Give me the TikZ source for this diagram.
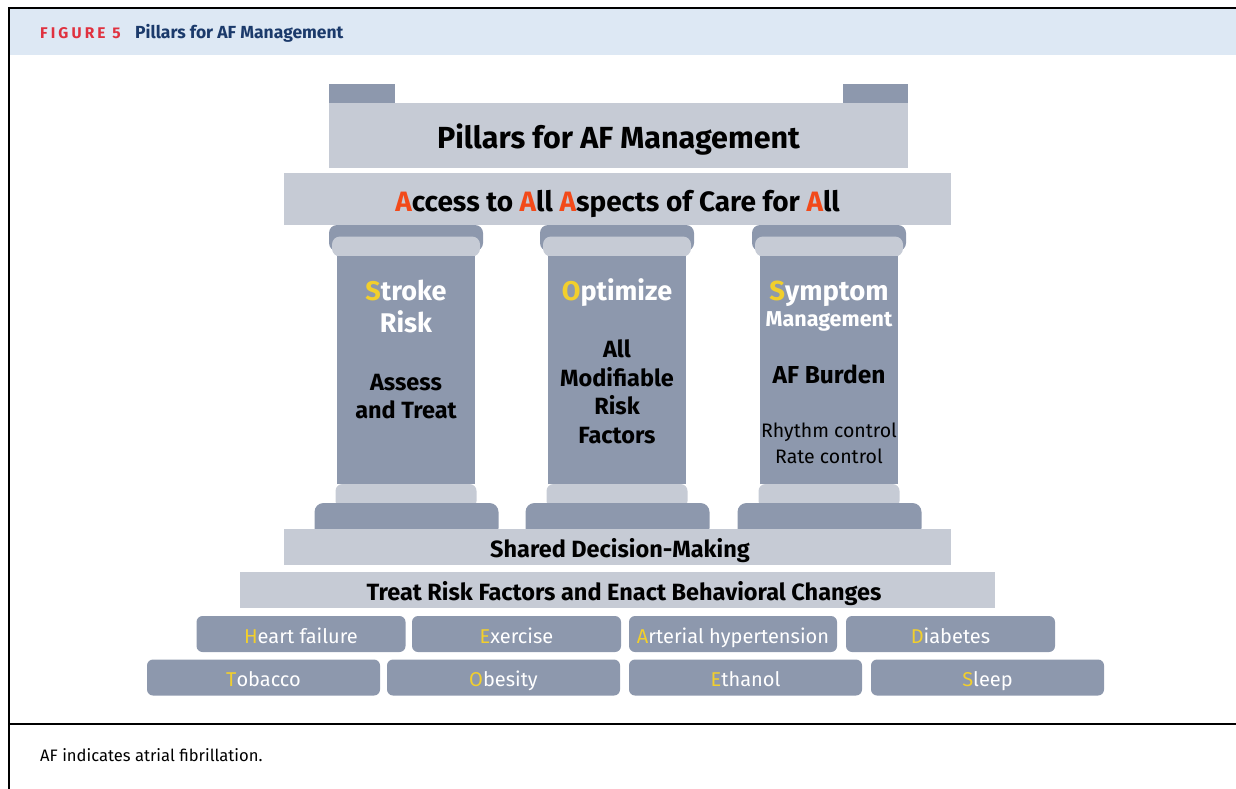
\documentclass[tikz,border=0pt]{standalone}
\usepackage{fontspec}
\setmainfont{Fira Sans}
\definecolor{dark}{HTML}{8D98AD}
\definecolor{light}{HTML}{C6CBD5}
\definecolor{hdr}{HTML}{DDE8F4}
\definecolor{orng}{HTML}{F24A1A}
\definecolor{yel}{HTML}{F2CF2C}
\definecolor{figred}{HTML}{E0313F}
\definecolor{navy}{HTML}{1B3A6B}
\newcommand{\Yl}[1]{\textcolor{yel}{#1}}
\newcommand{\Or}[1]{\textcolor{orng}{#1}}
\newcommand{\fs}[1]{\fontsize{#1}{#1}\selectfont}
\tikzset{
  lightbox/.style={fill=light, draw=none, inner sep=0pt, rectangle},
  darkbox/.style={fill=dark, draw=none, inner sep=0pt, rectangle},
  tag/.style={fill=dark, draw=none, inner sep=0pt, rounded corners=6pt, minimum height=36pt, text height=20pt, text depth=2pt, text=white, font=\fs{20}},
  boldtxt/.style={font=\bfseries\fs{23.5}, text=black, anchor=base, inner sep=0pt},
  whitetxt/.style={font=\bfseries\fs{27}, text=white, anchor=base, inner sep=0pt},
}
\begin{document}
\begin{tikzpicture}[x=1pt, y=-1pt]
\useasboundingbox (0,0) rectangle (1236,789);
% frame
\fill[hdr] (9,9) rectangle (1236,55);
\draw[line width=1.6pt] (1236,8) -- (9,8) -- (9,789);
\draw[line width=1.6pt] (9,724) -- (1236,724);
\node[anchor=base west, inner sep=0pt, text=figred, font=\bfseries\fs{15.5}\addfontfeature{LetterSpace=20}] (fig) at (40,39) {FIGURE 5};
\node[anchor=base west, inner sep=0pt, text=navy, font=\bfseries\fs{17.5}] (figtitle) at (135,39) {Pillars for AF Management};
% roof
\node[darkbox, minimum width=66pt, minimum height=19pt] (earL) at (362,93.5) {};
\node[darkbox, minimum width=65pt, minimum height=19pt] (earR) at (875.5,93.5) {};
\node[lightbox, minimum width=579pt, minimum height=65pt] (roof) at (618.5,135.5) {};
\node[anchor=base, inner sep=0pt, font=\bfseries\fs{30.5}] (rooftxt) at (618.5,148) {Pillars for AF Management};
\node[lightbox, minimum width=667pt, minimum height=52pt] (access) at (617.5,199) {};
\node[anchor=base, inner sep=0pt, font=\bfseries\fs{28}] (accesstxt) at (617.5,211) {\Or{A}ccess to \Or{A}ll \Or{A}spects of Care for \Or{A}ll};
% pillars
\foreach \c/\n in {406/p1, 617/p2, 829/p3}{
  \node[darkbox, rounded corners=8pt, minimum width=154pt, minimum height=26pt] (\n capd) at (\c,238) {};
  \node[lightbox, rounded corners=8pt, minimum width=148pt, minimum height=20pt] (\n capl) at (\c,246.5) {};
  \node[darkbox, minimum width=138pt, minimum height=228pt] (\n shaft) at (\c,370) {};
  \node[lightbox, rounded corners=7pt, minimum width=141pt, minimum height=24pt] (\n basel) at (\c,496) {};
  \node[darkbox, rounded corners=9pt, minimum width=184pt, minimum height=34pt] (\n plinth) at (\c+0.5,520) {};
}
% pillar texts
\node[whitetxt] (t1a) at (406,300) {\Yl{S}troke};
\node[whitetxt] (t1b) at (406,332) {Risk};
\node[boldtxt] (t1c) at (406,390) {Assess};
\node[boldtxt] (t1d) at (406,418) {and Treat};
\node[whitetxt] (t2a) at (617,300) {\Yl{O}ptimize};
\node[boldtxt] (t2b) at (617,357) {All};
\node[boldtxt] (t2c) at (617,386) {Modifiable};
\node[boldtxt] (t2d) at (617,414) {Risk};
\node[boldtxt] (t2e) at (617,443) {Factors};
\node[whitetxt, font=\bfseries\fs{27.5}] (t3a) at (829,300) {\Yl{S}ymptom};
\node[whitetxt, font=\bfseries\fs{21.5}] (t3b) at (829,326) {Management};
\node[boldtxt, font=\bfseries\fs{24.5}] (t3c) at (829,383) {AF Burden};
\node[anchor=base, inner sep=0pt, font=\fs{19.5}] (t3d) at (829,437) {Rhythm control};
\node[anchor=base, inner sep=0pt, font=\fs{19.5}] (t3e) at (829,463) {Rate control};
% lower bands
\node[lightbox, minimum width=667pt, minimum height=36pt] (shared) at (617.5,547) {};
\node[anchor=base, inner sep=0pt, font=\bfseries\fs{23.5}] (sharedtxt) at (620,557) {Shared Decision-Making};
\node[lightbox, minimum width=755pt, minimum height=36pt] (treat) at (617.5,590) {};
\node[anchor=base, inner sep=0pt, font=\bfseries\fs{23.5}] (treattxt) at (624,600) {Treat Risk Factors and Enact Behavioral Changes};
% tags row 1
\node[tag, minimum width=209pt] (hf) at (301,634) {\Yl{H}eart failure};
\node[tag, minimum width=209pt] (ex) at (516.5,634) {\Yl{E}xercise};
\node[tag, minimum width=208pt] (ah) at (733,634) {\Yl{A}rterial hypertension};
\node[tag, minimum width=209pt] (db) at (950.5,634) {\Yl{D}iabetes};
% tags row 2
\node[tag, minimum width=233pt] (tb) at (263.5,677.5) {\Yl{T}obacco};
\node[tag, minimum width=233pt] (ob) at (503.5,677.5) {\Yl{O}besity};
\node[tag, minimum width=233pt] (et) at (745.5,677.5) {\Yl{E}thanol};
\node[tag, minimum width=233pt] (sl) at (987.5,677.5) {\Yl{S}leep};
% caption
\node[anchor=base west, inner sep=0pt, font=\fs{16.6}] (cap) at (40,761) {AF indicates atrial fibrillation.};
\end{tikzpicture}
\end{document}
